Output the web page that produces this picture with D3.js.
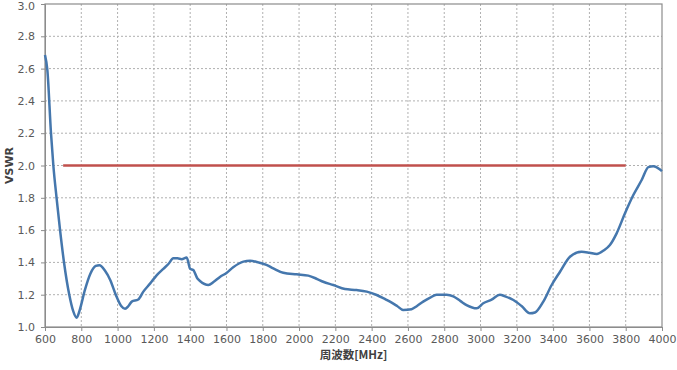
<!DOCTYPE html>
<html>
<head>
<meta charset="utf-8">
<script src="https://cdn.jsdelivr.net/npm/d3@7"></script>
<style>
  html, body { margin: 0; padding: 0; background: #fff; }
  svg { display: block; }
  text { font-family: "DejaVu Sans", Verdana, sans-serif; }
</style>
</head>
<body>
<svg id="chart" width="677" height="370"></svg>
<script>
const freq = [600, 613, 633, 646, 664, 683, 705, 734, 755, 775, 790, 820, 850, 880, 900, 930, 960, 990, 1020, 1041, 1060, 1078, 1114, 1142, 1180, 1215, 1252, 1280, 1307, 1330, 1353, 1381, 1400, 1417, 1440, 1454, 1500, 1530, 1564, 1600, 1637, 1693, 1730, 1776, 1820, 1858, 1913, 1987, 2051, 2100, 2133, 2189, 2253, 2317, 2373, 2428, 2470, 2501, 2540, 2574, 2620, 2650, 2684, 2720, 2758, 2813, 2850, 2890, 2923, 2979, 3015, 3061, 3107, 3135, 3181, 3226, 3272, 3300, 3346, 3392, 3438, 3493, 3557, 3600, 3640, 3680, 3713, 3750, 3796, 3842, 3888, 3925, 3952, 3989, 4000];
const vswr = [2.684, 2.59, 2.2, 2.0, 1.797, 1.6, 1.398, 1.198, 1.10, 1.058, 1.10, 1.23, 1.33, 1.378, 1.383, 1.35, 1.29, 1.2, 1.13, 1.113, 1.13, 1.157, 1.17, 1.219, 1.27, 1.32, 1.36, 1.39, 1.425, 1.425, 1.42, 1.43, 1.36, 1.353, 1.30, 1.285, 1.26, 1.28, 1.31, 1.335, 1.37, 1.405, 1.41, 1.40, 1.385, 1.363, 1.336, 1.326, 1.318, 1.297, 1.28, 1.26, 1.235, 1.229, 1.219, 1.198, 1.175, 1.157, 1.13, 1.105, 1.11, 1.13, 1.157, 1.18, 1.2, 1.2, 1.19, 1.16, 1.136, 1.116, 1.147, 1.17, 1.2, 1.19, 1.167, 1.13, 1.085, 1.09, 1.157, 1.26, 1.342, 1.435, 1.466, 1.46, 1.452, 1.475, 1.508, 1.58, 1.704, 1.817, 1.91, 1.99, 1.995, 1.975, 1.965];
const limitFreq = [700, 3800];
const limitValue = [2.0, 2.0];
const xTicks = [600, 800, 1000, 1200, 1400, 1600, 1800, 2000, 2200, 2400, 2600, 2800, 3000, 3200, 3400, 3600, 3800, 4000];
const yTicks = [1.0, 1.2, 1.4, 1.6, 1.8, 2.0, 2.2, 2.4, 2.6, 2.8, 3.0];
const xTitle = "周波数[MHz]";
const yTitle = "VSWR";

const L = 45, R = 662, T = 4, B = 327;
const svg = d3.select("#chart");
const x = d3.scaleLinear().domain([600, 4000]).range([L, R]);
const y = d3.scaleLinear().domain([1.0, 3.0]).range([B, T]);

// grid
const grid = svg.append("g");
grid.selectAll("line.v").data(xTicks.slice(1, -1)).enter().append("line")
  .attr("x1", d => x(d)).attr("x2", d => x(d)).attr("y1", T).attr("y2", B)
  .attr("stroke", "#b0b0b0").attr("stroke-width", 1).attr("stroke-dasharray", "2,2");
grid.selectAll("line.h").data(yTicks.slice(1, -1)).enter().append("line")
  .attr("x1", L).attr("x2", R).attr("y1", d => y(d)).attr("y2", d => y(d))
  .attr("stroke", "#b0b0b0").attr("stroke-width", 1).attr("stroke-dasharray", "2,2");

// border
svg.append("rect").attr("x", L).attr("y", T).attr("width", R - L).attr("height", B - T)
  .attr("fill", "none").attr("stroke", "#8c8c8c").attr("stroke-width", 1.2);

// axes
const xAxis = d3.axisBottom(x).tickValues(xTicks).tickFormat(d3.format("d")).tickSize(4).tickPadding(4);
const yAxis = d3.axisLeft(y).tickValues(yTicks).tickFormat(d3.format(".1f")).tickSize(4).tickPadding(6);
const gx = svg.append("g").attr("transform", `translate(0,${B})`).call(xAxis);
const gy = svg.append("g").attr("transform", `translate(${L},0)`).call(yAxis);
[gx, gy].forEach(g => {
  g.select(".domain").attr("stroke", "#8c8c8c");
  g.selectAll(".tick line").attr("stroke", "#8c8c8c");
  g.selectAll(".tick text").attr("fill", "#595959").style("font-size", "11px")
    .style("font-family", "'DejaVu Sans', Verdana, sans-serif");
});
// keep the top label inside the page
gy.selectAll(".tick").filter(d => d === 3.0).select("text").attr("dy", "0.5em");

// limit line
const limitData = limitFreq.map((f, i) => [f, limitValue[i]]);
svg.append("path").datum(limitData)
  .attr("d", d3.line().x(d => x(d[0])).y(d => y(d[1])))
  .attr("fill", "none").attr("stroke", "#c0504d").attr("stroke-width", 2.5);

// VSWR curve
const data = freq.map((f, i) => [f, vswr[i]]);
svg.append("path").datum(data)
  .attr("d", d3.line().x(d => x(d[0])).y(d => y(d[1])).curve(d3.curveMonotoneX))
  .attr("fill", "none").attr("stroke", "#4577ad").attr("stroke-width", 2.5)
  .attr("stroke-linejoin", "round");

// titles
svg.append("text").attr("x", (L + R) / 2).attr("y", 359).attr("text-anchor", "middle")
  .style("font-size", "11.5px").style("font-weight", "bold").attr("fill", "#404040")
  .style("font-family", "'Noto Sans CJK JP', 'DejaVu Sans', sans-serif")
  .text(xTitle);
svg.append("text").attr("transform", `translate(13,${(T + B) / 2}) rotate(-90)`)
  .attr("text-anchor", "middle")
  .style("font-size", "11px").style("font-weight", "bold").attr("fill", "#404040")
  .text(yTitle);
</script>
</body>
</html>
